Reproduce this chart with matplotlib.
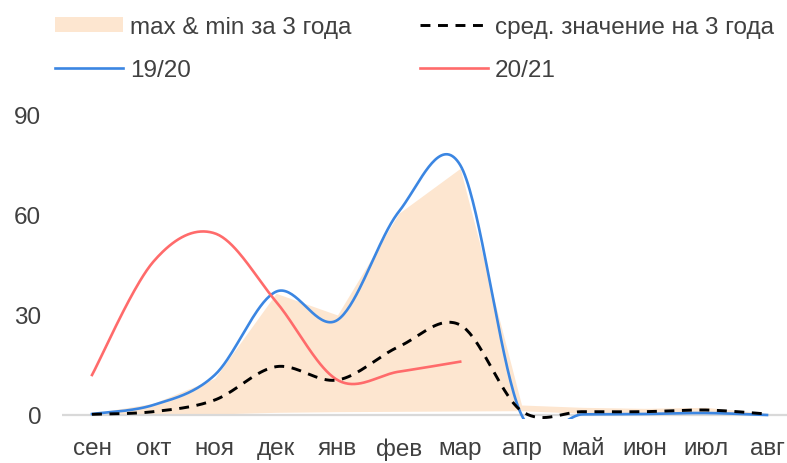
import matplotlib
matplotlib.use("Agg")
import matplotlib.pyplot as plt
import numpy as np
from matplotlib.patches import Patch
from matplotlib.lines import Line2D

# ---- data ----
months = ["сен", "окт", "ноя", "дек", "янв", "фев", "мар",
          "апр", "май", "июн", "июл", "авг"]

band_max = [0.5, 3.5, 11, 36.5, 30, 60.5, 74, 3, 2.3, 2.0, 2.3, 0.5]
band_min = [0.0, 0.1, 0.3, 0.8, 1.0, 1.1, 1.2, 1.3, 0.5, 0.3, 0.3, 0.2]
avg_3y = [0.2, 1.0, 4.5, 14.5, 10.5, 20.5, 27, 1.2, 1.0, 1.0, 1.5, 0.3]
s19_20 = [0.3, 3, 12, 37, 28.5, 61, 75, 0.0, 0.2, 0.3, 0.6, 0.0]
s20_21 = [12, 46, 54.5, 34, 10.5, 13, 16]

LEGEND_LABELS = ["max & min за 3 года", "19/20",
                 "сред. значение на 3 года", "20/21"]

C_FILL = "#fde6d0"
C_BLUE = "#3b86e2"
C_RED = "#ff6b6b"
C_TEXT = "#404040"


def smooth(y, n=40):
    """Сглаживание как в Excel (Catmull-Rom через кубические Безье)."""
    p = np.column_stack([np.arange(len(y), dtype=float), np.asarray(y, float)])
    ext = np.vstack([p[0], p, p[-1]])
    out = []
    t = np.linspace(0, 1, n)[:, None]
    for i in range(len(p) - 1):
        p0, p1, p2, p3 = ext[i], ext[i + 1], ext[i + 2], ext[i + 3]
        b1 = p1 + (p2 - p0) / 6
        b2 = p2 - (p3 - p1) / 6
        seg = ((1 - t) ** 3) * p1 + 3 * ((1 - t) ** 2) * t * b1 \
            + 3 * (1 - t) * t ** 2 * b2 + t ** 3 * p2
        out.append(seg if i == 0 else seg[1:])
    seg = np.vstack(out)
    return seg[:, 0], seg[:, 1]


plt.rcParams["font.family"] = ["Liberation Sans", "DejaVu Sans"]

fig = plt.figure(figsize=(7.87, 4.64), dpi=100)
ax = fig.add_axes([62 / 787, 44 / 464, 725 / 787, 320 / 464])

x = np.arange(len(months))
ax.fill_between(x, band_min, band_max, color=C_FILL, lw=0, zorder=1)
ax.axhline(0, color="#d9d9d9", lw=1.6, zorder=2)

bx, by = smooth(s19_20)
ax.plot(bx, by, color=C_BLUE, lw=1.9, zorder=3)
rx, ry = smooth(s20_21)
ax.plot(rx, ry, color=C_RED, lw=1.9, zorder=4)
ax.plot(*smooth(avg_3y), color="black", lw=2.1, dashes=(3.4, 2.6), zorder=5)

ax.set_xlim(-0.489, 11.326)
ax.set_ylim(-1.2, 94.8)
ax.set_yticks([0, 30, 60, 90])
ax.set_xticks(x)
ax.set_xticklabels(months)
ax.tick_params(axis="both", length=0, labelsize=17.5, colors=C_TEXT)
ax.tick_params(axis="y", pad=15)
ax.tick_params(axis="x", pad=13)
for s in ax.spines.values():
    s.set_visible(False)

handles = [
    Patch(facecolor=C_FILL, edgecolor="none"),
    Line2D([], [], color=C_BLUE, lw=1.9),
    Line2D([], [], color="black", lw=2.1, dashes=(3.4, 2.6)),
    Line2D([], [], color=C_RED, lw=1.9),
]
leg = fig.legend(handles, LEGEND_LABELS, ncol=2, loc="upper left",
                 bbox_to_anchor=(55 / 787, 1 - 17 / 464), frameon=False,
                 fontsize=17.5, handlelength=2.8, handleheight=0.55,
                 handletextpad=0.3, columnspacing=2.8, labelspacing=0.85,
                 borderpad=0, borderaxespad=0)
for t in leg.get_texts():
    t.set_color(C_TEXT)

fig.savefig("out.png", dpi=100)
